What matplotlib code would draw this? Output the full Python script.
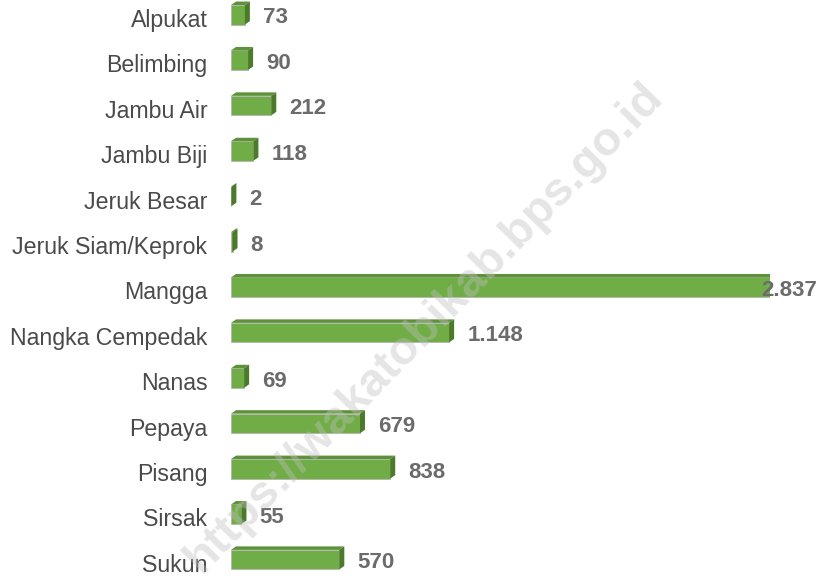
import matplotlib
matplotlib.use('Agg')
import matplotlib.pyplot as plt
from matplotlib.patches import Polygon, Rectangle

# data
categories = ['Alpukat', 'Belimbing', 'Jambu Air', 'Jambu Biji', 'Jeruk Besar',
              'Jeruk Siam/Keprok', 'Mangga', 'Nangka Cempedak', 'Nanas', 'Pepaya',
              'Pisang', 'Sirsak', 'Sukun']
values = [73, 90, 212, 118, 2, 8, 2837, 1148, 69, 679, 838, 55, 570]
value_labels = ['73', '90', '212', '118', '2', '8', '2.837', '1.148', '69', '679',
                '838', '55', '570']

FRONT = '#70ad47'
TOP = '#5e9239'
SIDE = '#4b7a2b'

plt.rcParams['font.family'] = ['Liberation Sans', 'DejaVu Sans']

fig = plt.figure(figsize=(8.2, 5.76), dpi=100)
ax = fig.add_axes([231 / 820, 0, 539 / 820, 1])
ax.set_xlim(0, max(values))
ax.set_ylim(12.29, -0.396)

bar_h = 0.43
shift = -0.07                   # front face sits a bit above the category centre
dx = 5 * max(values) / 539      # depth of the 3d effect, ~5px
dy = 3.5 / 45.4                 # ~3.5px upwards

for i, v in enumerate(values):
    y0 = i + shift - bar_h / 2
    y1 = i + shift + bar_h / 2
    # front face
    ax.add_patch(Rectangle((0, y0), v, bar_h, facecolor=FRONT,
                           edgecolor='#b5b5b5', linewidth=0.6, zorder=3))
    # top face
    ax.add_patch(Polygon([(0, y0), (v, y0), (v + dx, y0 - dy), (dx, y0 - dy)],
                         closed=True, facecolor=TOP, edgecolor='none', zorder=3))
    # right face
    ax.add_patch(Polygon([(v, y0), (v + dx, y0 - dy), (v + dx, y1 - dy), (v, y1)],
                         closed=True, facecolor=SIDE, edgecolor='none', zorder=3))

    if v == max(values):
        ax.annotate(value_labels[i], xy=(1, i), xycoords=('axes fraction', 'data'),
                    xytext=(47 * 0.72, 0), textcoords='offset points',
                    ha='right', va='center', fontsize=16, fontweight='bold',
                    color='#6b6b6b', zorder=6)
    else:
        ax.annotate(value_labels[i], xy=(v, i), xytext=(13, 0),
                    textcoords='offset points', ha='left', va='center',
                    fontsize=16, fontweight='bold', color='#6b6b6b', zorder=6)

ax.set_yticks(range(len(categories)))
ax.set_yticklabels(categories, fontsize=16.7, color='#4a4a4a')
ax.tick_params(axis='y', length=0, pad=17)
ax.set_xticks([])
for s in ax.spines.values():
    s.set_visible(False)

# watermark
fig.text(424 / 820, 1 - 328 / 576, 'https://wakatobikab.bps.go.id', fontsize=34,
         fontweight='bold', color='#bfbfbf', alpha=0.4, rotation=45.8,
         rotation_mode='anchor', ha='center', va='center', zorder=5)

fig.savefig('out.png', dpi=100)
